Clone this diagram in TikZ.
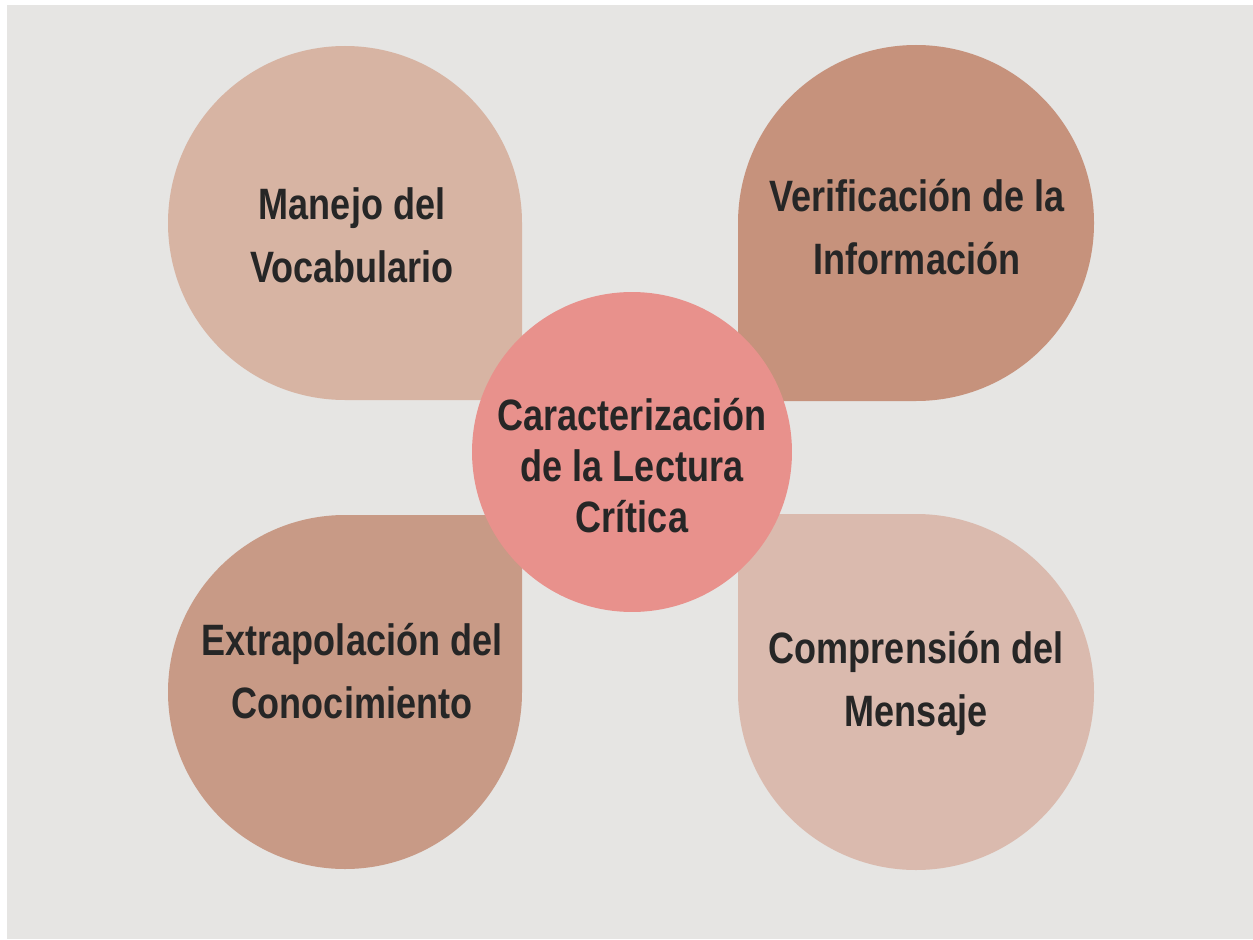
\documentclass[tikz,border=0pt]{standalone}
\usepackage{fontspec}
\usepackage{xcolor}
\usepackage{tikz}
\setmainfont{Liberation Sans}[FakeStretch=0.82]

\definecolor{fondo}{HTML}{E6E5E3}
\definecolor{tinta}{HTML}{262626}
\definecolor{petalA}{HTML}{D7B4A3}
\definecolor{petalB}{HTML}{C6927C}
\definecolor{petalC}{HTML}{C89A86}
\definecolor{petalD}{HTML}{DABAAE}
\definecolor{centro}{HTML}{E8918C}

\begin{document}
\begin{tikzpicture}[x=0.02cm,y=-0.02cm,
	petaltext/.style={align=center,text=tinta,inner sep=0pt,
		font=\fontsize{25}{35.8}\selectfont\bfseries},
	centertext/.style={align=center,text=tinta,inner sep=0pt,
		font=\fontsize{25}{29}\selectfont\bfseries},
	hub/.style={shape=circle,fill=centro,minimum size=6.4cm,inner sep=0pt}]

	\useasboundingbox (0,0) rectangle (1253,939);
	\fill[white] (0,0) rectangle (1253,939);
	\fill[fondo] (7,5) rectangle (1253,939);

	% petals, sharp corner towards the middle
	\fill[petalA] (522,223) -- (522,400) -- (345,400) arc[start angle=90, end angle=360, radius=177] -- cycle;
	\fill[petalB] (738,223) -- (738,401) -- (916,401) arc[start angle=90, end angle=-180, radius=178] -- cycle;
	\fill[petalC] (345,515) -- (522,515) -- (522,692) arc[start angle=0, end angle=270, radius=177] -- cycle;
	\fill[petalD] (916,514) -- (738,514) -- (738,692) arc[start angle=180, end angle=-90, radius=178] -- cycle;

	\node[hub] (hub) at (632,452) {};

	\node[petaltext] (manejo)   at (352,235) {Manejo del\\Vocabulario};
	\node[petaltext] (verif)    at (917,227) {Verificación de la\\Información};
	\node[petaltext] (extrap)   at (352,671) {Extrapolación del\\Conocimiento};
	\node[petaltext] (compren)  at (916,683) {Comprensión del\\Mensaje};
	\node[centertext] (lectura) at (632,466) {Caracterización\\de la Lectura\\Crítica};

\end{tikzpicture}
\end{document}
